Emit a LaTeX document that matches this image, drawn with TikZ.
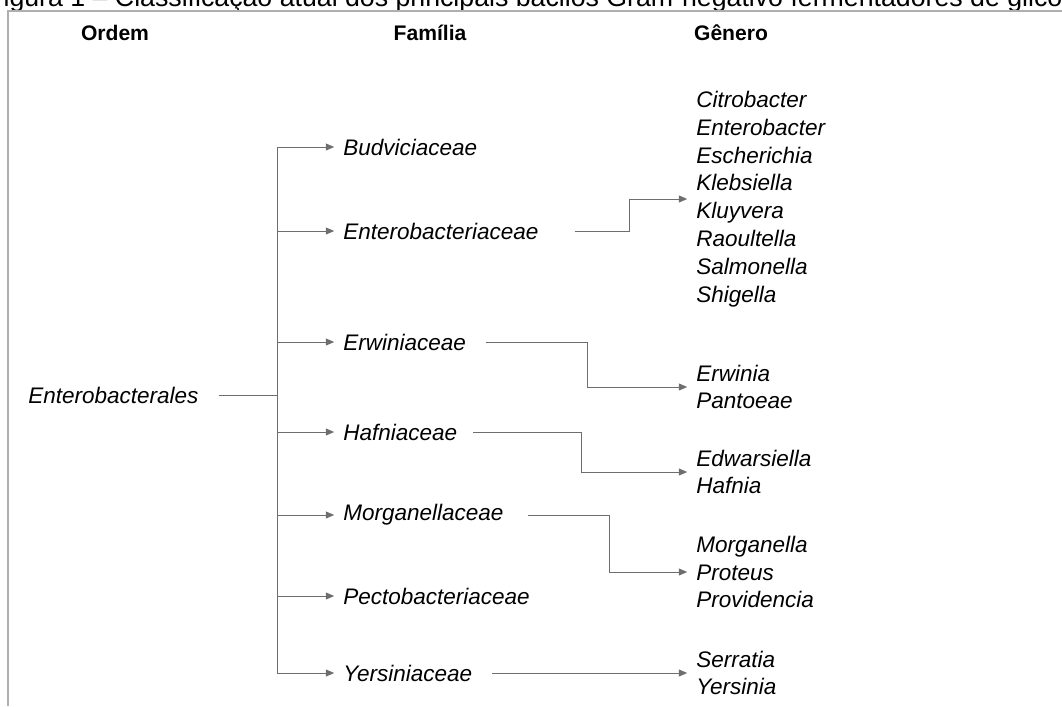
\documentclass[tikz,border=0pt]{standalone}
\usepackage{fontspec}
\setmainfont{Liberation Sans}
\usepackage{tikz}
\usetikzlibrary{arrows.meta, positioning}
\usepackage{xcolor}
\definecolor{linegray}{RGB}{110,110,110}
\definecolor{framegray}{RGB}{175,175,175}

\tikzset{
  taxon/.style={inner sep=0pt, anchor=west, font=\fontsize{16}{19.8}\selectfont\itshape},
  heading/.style={inner sep=0pt, font=\fontsize{15}{18}\selectfont\bfseries},
  link/.style={draw=linegray, line width=0.7pt},
  branch/.style={link, -{Triangle[length=6pt, width=5pt]}, shorten >=0.22cm},
}

\begin{document}
\begin{tikzpicture}[x=0.025cm, y=-0.025cm]
    \useasboundingbox (0,0) rectangle (1062,706);
    \clip (0,0) rectangle (1062,706);

    % Caption (cut off at the top)
    \node[anchor=base west, inner sep=0pt, font=\fontsize{19}{22}\selectfont] (caption) at (-13,6) {Figura 1 – Classificação atual dos principais bacilos Gram-negativo fermentadores de glicose};

    % Frame
    \draw[framegray, line width=1.2pt] (1062,11) -- (8,11) -- (8,706);

    % Column headings
    \node[heading] (hOrdem) at (115,33) {Ordem};
    \node[heading] (hFamilia) at (430,33) {Família};
    \node[heading] (hGenero) at (731,33) {Gênero};

    % Order and trunk
    \node[taxon] (order) at (28,395) {Enterobacterales};
    \coordinate (split) at (277,395);
    \coordinate (trunkTop) at (277,147);
    \coordinate (trunkBot) at (277,673);
    \draw[link, shorten <=0.5cm] (order.east) -- (split);
    \draw[link] (trunkTop) -- (trunkBot);

    % Families
    \foreach \name/\y/\label in {budv/147/Budviciaceae, entero/231/Enterobacteriaceae,
        erwin/342/Erwiniaceae, hafn/432/Hafniaceae, morg/515/Morganellaceae,
        pecto/596/Pectobacteriaceae, yers/673/Yersiniaceae} {
        \node[taxon] (\name) at (343,\y) {\label};
        \draw[branch] (split |- \name.west) -- (\name.west);
    }

    % Genera
    \node[taxon, align=left] (gEntero) at (696,199) {Citrobacter\\Enterobacter\\Escherichia\\Klebsiella\\Kluyvera\\Raoultella\\Salmonella\\Shigella};
    \node[taxon, align=left] (gErwin) at (696,387) {Erwinia\\Pantoeae};
    \node[taxon, align=left] (gHafn) at (696,472) {Edwarsiella\\Hafnia};
    \node[taxon, align=left] (gMorg) at (696,572) {Morganella\\Proteus\\Providencia};
    \node[taxon, align=left] (gYers) at (696,673) {Serratia\\Yersinia};

    % Family -> genera
    \coordinate (bendEntero) at (629,0);
    \coordinate (bendErwin) at (587,0);
    \coordinate (bendHafn) at (581,0);
    \coordinate (bendMorg) at (609,0);
    \draw[branch, shorten <=0.9cm] (entero.east) -| (bendEntero |- gEntero.west) -- (gEntero.west);
    \draw[branch, shorten <=0.5cm] (erwin.east) -| (bendErwin |- gErwin.west) -- (gErwin.west);
    \draw[branch, shorten <=0.4cm] (hafn.east) -| (bendHafn |- gHafn.west) -- (gHafn.west);
    \draw[branch, shorten <=0.6cm] (morg.east) -| (bendMorg |- gMorg.west) -- (gMorg.west);
    \draw[branch, shorten <=0.5cm] (yers.east) -- (gYers.west);

\end{tikzpicture}
\end{document}
